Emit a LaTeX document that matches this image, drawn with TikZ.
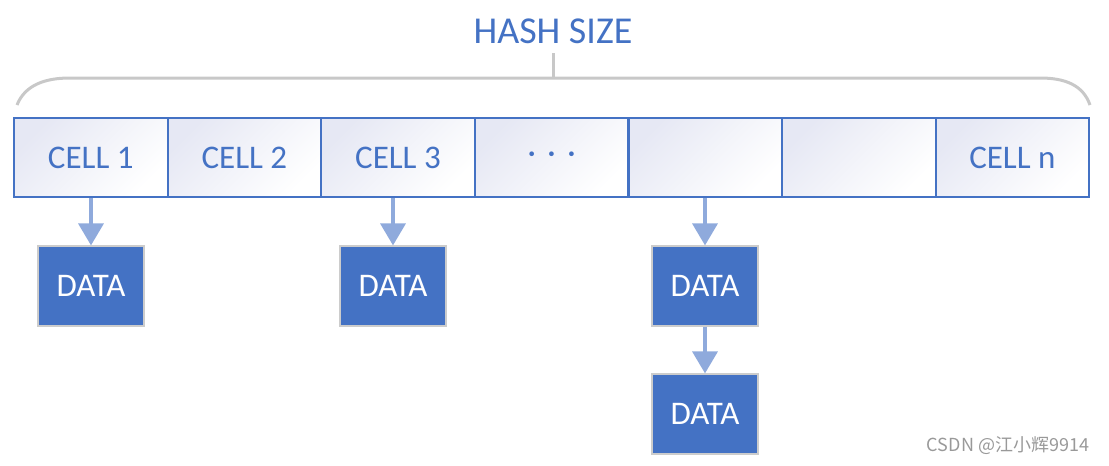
\documentclass[tikz,border=0pt]{standalone}
\usepackage{fontspec}
\setmainfont{Carlito}
\newfontfamily\cjk{Noto Sans CJK SC}
\usetikzlibrary{arrows.meta}

\definecolor{cellblue}{HTML}{4472C4}
\definecolor{linkblue}{HTML}{8FAADC}
\definecolor{bracegray}{HTML}{C8C8C8}
\definecolor{celltint}{HTML}{E6E8F4}

\tikzset{
  cell/.style={draw=cellblue, line width=1.1pt, shading=axis, top color=celltint,
    bottom color=white, shading angle=45, minimum width=76.8pt, minimum height=39.5pt,
    inner sep=0pt, text=cellblue, font=\fontsize{16.5}{19}\selectfont},
  data/.style={draw=black!20, line width=0.6pt, fill=cellblue, minimum width=53pt,
    minimum height=40pt, inner sep=0pt, text=white, font=\fontsize{16.5}{19}\selectfont},
  link/.style={draw=linkblue, line width=1.8pt, -{Triangle[width=12.5pt,length=11pt]}}
}

\begin{document}
\begin{tikzpicture}[x=0.5pt, y=-0.5pt]
    \useasboundingbox (0,0) rectangle (1109,466);

    \draw[bracegray, line width=1.5pt]
    (17,105) .. controls (25,85) and (45,78) .. (70,78) --
    (1040,78) .. controls (1065,78) and (1083,85) .. (1090,105);
    \draw[bracegray, line width=1.5pt] (553,78) -- (553,53);
    \node[text=cellblue, font=\fontsize{19}{23}\selectfont] (size) at (553,31) {HASH SIZE};

    \foreach \i/\t in {1/CELL 1, 2/CELL 2, 3/CELL 3,
      4/{·\hspace{0.35em}·\hspace{0.35em}·}, 5/, 6/, 7/CELL n}
      \node[cell] (c\i) at ({14+153.6*(\i-0.5)}, 157.5) {\t};

    \node[data] (d1) at (91,286) {DATA};
    \node[data] (d2) at (393,286) {DATA};
    \node[data] (d3) at (705,286) {DATA};
    \node[data] (d4) at (705,414) {DATA};

    \draw[link] (d1.north |- c1.south) -- (d1.north);
    \draw[link] (d2.north |- c3.south) -- (d2.north);
    \draw[link] (d3.north |- c5.south) -- (d3.north);
    \draw[link] (d3.south) -- (d4.north);

    \node[text=black!40, font=\cjk\fontsize{9}{11}\selectfont] (mark) at (1008,446) {CSDN @江小辉9914};
\end{tikzpicture}
\end{document}
